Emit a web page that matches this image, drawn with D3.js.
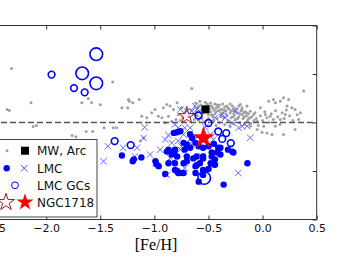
<!DOCTYPE html>
<html>
<head>
<meta charset="utf-8">
<script src="https://cdn.jsdelivr.net/npm/d3@7"></script>
<style>
  body { margin: 0; background: #fff; }
  svg { display: block; }
</style>
</head>
<body>
<svg id="chart" width="356" height="259"></svg>
<script>
// [Fe/H] vs abundance ratio
let xTicks = [-2.5, -2.0, -1.5, -1.0, -0.5, 0.0, 0.5];
let yTicks = [-1.0, -0.5, 0.0, 0.5, 1.0];

// Milky Way field stars (grey dots)
let mwStars = [
    [-2.32, 0.556], [-2.36, 0.135], [-2.34, 0.125], [-2.14, 0.204], [-2.09, -0.03], [-2.12, -0.04],
    [-1.61, 0.248], [-1.67, 0.204], [-1.58, 0.204], [-1.50, 0.183], [-1.385, 0.417], [-1.30, 0.152],
    [-1.246, 0.152], [-1.23, 0.22], [-1.20, 0.204], [-1.14, 0.238], [-1.465, -0.055], [-1.38, -0.055],
    [-1.76, -0.135], [-1.725, -0.148], [-1.63, -0.093], [-1.57, -0.093], [-1.13, -0.19], [-1.10, -0.16],
    [-1.35, -0.055], [-1.24, 0.238], [-1.117, 0.065], [-1.07, 0.049], [-1.024, 0.10], [-0.994, 0.135],
    [-0.963, 0.065], [-0.93, 0.049], [-0.917, 0.152], [-0.885, 0.186], [-0.855, 0.17], [-0.824, 0.135],
    [-0.79, 0.204], [-0.75, 0.152], [-0.87, 0.065], [-0.84, 0.013], [-0.90, -0.003], [-0.654, 0.35],
    [0.38, 0.324], [0.194, 0.256], [0.24, 0.238], [0.164, 0.22], [0.056, 0.22], [0.10, 0.238],
    [0.35, 0.10], [0.30, 0.135], [0.226, 0.169], [0.21, 0.083], [0.07, 0.065], [-0.083, 0.083],
    [-0.144, 0.169], [-0.19, 0.152], [0.333, 0.031], [-0.114, -0.038], [0.04, -0.107], [0.087, -0.124],
    [0.194, -0.124], [0.01, -0.038], [0.118, -0.038], [0.30, -0.072], [0.118, 0.204], [0.27, 0.152],
    [-0.02, 0.152], [0.025, 0.083], [0.164, 0.031], [-0.05, 0.013], [-0.114, 0.117], [-0.206, 0.186],
    [-0.176, 0.10], [-0.05, -0.072], [-0.005, -0.10],
    [-0.62, 0.20], [-0.60, 0.15], [-0.58, 0.12], [-0.57, 0.18], [-0.55, 0.10], [-0.54, 0.16],
    [-0.52, 0.13], [-0.51, 0.19], [-0.50, 0.08], [-0.49, 0.14], [-0.48, 0.11], [-0.47, 0.17],
    [-0.46, 0.06], [-0.45, 0.13], [-0.44, 0.09], [-0.43, 0.15], [-0.42, 0.04], [-0.41, 0.12],
    [-0.40, 0.18], [-0.39, 0.08], [-0.38, 0.14], [-0.37, 0.10], [-0.36, 0.05], [-0.35, 0.16],
    [-0.34, 0.12], [-0.33, 0.07], [-0.32, 0.02], [-0.31, 0.14], [-0.30, 0.10], [-0.29, 0.05],
    [-0.28, 0.17], [-0.27, 0.12], [-0.26, 0.08], [-0.25, 0.03], [-0.24, 0.14], [-0.23, 0.10],
    [-0.22, 0.06], [-0.21, 0.00], [-0.20, 0.12], [-0.19, 0.08], [-0.18, 0.04], [-0.17, -0.02],
    [-0.16, 0.11], [-0.15, 0.07], [-0.14, 0.02], [-0.13, 0.09], [-0.12, 0.05], [-0.11, -0.01],
    [-0.10, 0.06], [-0.08, 0.02], [-0.07, 0.10], [-0.06, 0.04], [-0.04, -0.03], [-0.02, 0.07],
    [0.00, 0.02], [0.02, 0.11], [0.04, 0.05], [0.06, 0.00], [0.08, 0.09], [0.10, 0.03],
    [0.12, 0.12], [0.14, 0.06], [0.16, -0.02], [0.18, 0.10], [0.20, 0.04], [0.22, 0.13],
    [0.25, 0.07], [0.28, 0.02], [0.32, 0.08],
    [-0.72, 0.10], [-0.70, 0.16], [-0.68, 0.06], [-0.66, 0.13], [-0.64, 0.09], [-0.63, 0.03],
    [-0.61, 0.07], [-0.59, 0.02], [-0.56, 0.05], [-0.53, 0.01], [-0.78, 0.08], [-0.80, 0.03],
    [-0.76, 0.02], [-0.74, 0.05],
    [-0.58, 0.22], [-0.53, 0.21], [-0.48, 0.20], [-0.44, 0.19], [-0.41, 0.16], [-0.37, 0.19],
    [-0.33, 0.17], [-0.30, 0.19], [-0.26, 0.15], [-0.22, 0.17], [-0.50, 0.04], [-0.45, 0.02],
    [-0.40, 0.00], [-0.35, -0.02], [-0.30, -0.04], [-0.27, -0.01], [-0.43, -0.03],
    [-0.61, 0.11], [-0.59, 0.17], [-0.56, 0.14], [-0.53, 0.17], [-0.51, 0.11], [-0.49, 0.17],
    [-0.47, 0.08], [-0.46, 0.15], [-0.43, 0.11], [-0.42, 0.18], [-0.39, 0.13], [-0.38, 0.06],
    [-0.36, 0.13], [-0.34, 0.09], [-0.32, 0.15], [-0.29, 0.12], [-0.27, 0.06], [-0.25, 0.11],
    [-0.23, 0.04], [-0.21, 0.09], [-0.19, 0.13], [-0.17, 0.06], [-0.15, 0.10], [-0.13, 0.04]
];

// Arcturus
let arcturus = [[-0.528, 0.135]];

// LMC field stars, first sample (filled dots)
let lmcDots = [
    [-1.30, -0.34], [-1.20, -0.40], [-1.19, -0.38], [-1.12, -0.36], [-0.99, -0.40], [-0.98, -0.43],
    [-0.96, -0.45], [-0.90, -0.53], [-0.885, -0.30], [-0.87, -0.28], [-0.87, -0.42], [-0.84, -0.31],
    [-0.84, -0.33], [-0.82, -0.107], [-0.82, -0.31], [-0.81, -0.28], [-0.81, -0.42], [-0.81, -0.49],
    [-0.79, -0.10], [-0.79, -0.35], [-0.79, -0.50], [-0.78, -0.52], [-0.76, -0.09], [-0.76, -0.52],
    [-0.73, -0.21], [-0.73, -0.42], [-0.73, -0.52], [-0.72, -0.28], [-0.70, -0.23], [-0.70, -0.35],
    [-0.70, -0.40], [-0.67, -0.12], [-0.67, -0.26], [-0.65, -0.16], [-0.64, -0.37], [-0.62, -0.21],
    [-0.62, -0.45], [-0.62, -0.52], [-0.61, -0.35], [-0.61, -0.44], [-0.59, -0.245], [-0.59, -0.61],
    [-0.58, -0.42], [-0.55, -0.26], [-0.55, -0.35], [-0.55, -0.37], [-0.55, -0.49], [-0.55, -0.54],
    [-0.50, -0.245], [-0.50, -0.48], [-0.48, -0.42], [-0.47, -0.31], [-0.47, -0.35], [-0.45, -0.22],
    [-0.45, -0.43], [-0.44, -0.38], [-0.42, -0.31], [-0.41, -0.26], [-0.39, -0.26], [-0.39, -0.33],
    [-0.36, -0.64], [-0.32, -0.28], [-0.28, -0.30], [-0.27, -0.31], [-0.14, -0.42], [-0.44, -0.435]
];

// LMC field stars, second sample (crosses)
let lmcCrosses = [
    [-1.47, -0.40], [-1.43, -0.245], [-1.29, -0.26], [-1.18, -0.35], [-1.16, -0.26], [-1.10, -0.16],
    [-1.09, -0.05], [-0.99, -0.42], [-0.885, -0.54], [-0.87, -0.13], [-0.855, -0.365], [-0.84, -0.21],
    [-0.78, -0.055], [-0.78, -0.19], [-0.76, 0.135], [-0.76, -0.28], [-0.75, -0.245], [-0.73, -0.124],
    [-0.72, -0.055], [-0.72, -0.47], [-0.70, 0.117], [-0.70, -0.21], [-0.70, -0.38], [-0.67, -0.055],
    [-0.67, -0.176], [-0.654, 0.117], [-0.654, -0.228], [-0.63, -0.176], [-0.623, 0.169], [-0.607, 0.135],
    [-0.577, 0.049], [-0.56, -0.35], [-0.376, 0.083], [-0.345, 0.049], [-0.283, -0.003], [-0.253, 0.117],
    [-0.222, -0.055], [-0.19, -0.038], [-0.144, -0.038], [-0.114, -0.158], [-0.225, -0.52], [-0.90, -0.176],
    [-0.947, -0.28], [-0.81, -0.02], [-0.53, -0.05], [-0.484, -0.124], [-0.438, 0.05], [-0.456, -0.176],
    [-1.04, -0.33], [-0.836, -0.41]
];

// LMC globular clusters: [Fe/H], ratio, relative mass
let lmcGCs = [
    [-1.537, 0.704, 3], [-1.667, 0.507, 3], [-1.537, 0.404, 3], [-1.95, 0.494, 1], [-1.743, 0.355, 1],
    [-1.644, 0.311, 1], [-0.593, 0.072, 1], [-0.50, -0.005, 1], [-0.41, -0.093, 1], [-0.336, -0.109, 1],
    [-0.373, -0.169, 1], [-0.294, -0.212, 1], [-0.54, -0.572, 3], [-1.367, -0.192, 1], [-1.219, -0.233, 1]
];

// NGC 1718: open star = alternative value, filled star = adopted value
let ngc1718Alt = [[-0.70, 0.065]];
let ngc1718 = [[-0.546, -0.158]];

let legendLabels = ["MW, Arc", "LMC", "LMC GCs", "NGC1718"];

function drawChart() {
    let svg = d3.select("#chart");
    let x = d3.scaleLinear().domain([-2.75, 0.5]).range([-35, 316.7]);
    let y = d3.scaleLinear().domain([-1, 1]).range([219.5, 25.5]);
    let r = d3.scaleSqrt().domain([0, 3]).range([0, 6.3]);
    let fmt = v => d3.format(".1f")(v).replace("-", "\u2212");

    let plot = svg.append("g");

    // grey MW dots
    plot.selectAll(".mw").data(mwStars).enter().append("circle")
        .attr("cx", d => x(d[0])).attr("cy", d => y(d[1]))
        .attr("r", 1.5).attr("fill", "#a0a0a0");

    // solar-ratio line
    plot.append("line")
        .attr("x1", x(-2.75)).attr("x2", x(0.5))
        .attr("y1", y(0)).attr("y2", y(0))
        .attr("stroke", "#555").attr("stroke-width", 1.5)
        .attr("stroke-dasharray", "6,3");

    // LMC crosses
    plot.selectAll(".lx").data(lmcCrosses).enter().append("path")
        .attr("d", d => {
            let px = x(d[0]), py = y(d[1]), s = 3.2;
            return "M" + (px - s) + "," + (py - s) + "L" + (px + s) + "," + (py + s) +
                "M" + (px - s) + "," + (py + s) + "L" + (px + s) + "," + (py - s);
        })
        .attr("fill", "none").attr("stroke", "#4d4dff").attr("stroke-width", 1).attr("opacity", 0.85);

    // LMC dots
    plot.selectAll(".ld").data(lmcDots).enter().append("circle")
        .attr("cx", d => x(d[0])).attr("cy", d => y(d[1]))
        .attr("r", 3.2).attr("fill", "#0000ff");

    // LMC GCs
    plot.selectAll(".gc").data(lmcGCs).enter().append("circle")
        .attr("cx", d => x(d[0])).attr("cy", d => y(d[1]))
        .attr("r", d => r(d[2]) * 0.62 + (d[2] === 1 ? 1.1 : 2.4))
        .attr("fill", "none").attr("stroke", "#0000ff").attr("stroke-width", 1.6);

    // Arcturus
    plot.selectAll(".arc").data(arcturus).enter().append("path")
        .attr("transform", d => "translate(" + x(d[0]) + "," + y(d[1]) + ")")
        .attr("d", d3.symbol(d3.symbolSquare, 64)).attr("fill", "#000");

    // NGC 1718
    plot.selectAll(".ngcAlt").data(ngc1718Alt).enter().append("path")
        .attr("transform", d => "translate(" + x(d[0]) + "," + y(d[1]) + ")")
        .attr("d", d3.symbol(d3.symbolStar, 80))
        .attr("fill", "none").attr("stroke", "#a01818").attr("stroke-width", 1);
    plot.selectAll(".ngc").data(ngc1718).enter().append("path")
        .attr("transform", d => "translate(" + x(d[0]) + "," + y(d[1]) + ")")
        .attr("d", d3.symbol(d3.symbolStar, 140))
        .attr("fill", "#ff0000").attr("stroke", "#ff0000").attr("stroke-width", 0.5);

    // frame and ticks
    let bottom = svg.append("g").attr("transform", "translate(0," + y(-1) + ")")
        .call(d3.axisBottom(x).tickValues(xTicks).tickFormat(fmt).tickSizeInner(-4).tickSizeOuter(0).tickPadding(5));
    bottom.selectAll("text").attr("font-family", "DejaVu Sans").attr("font-size", 11).attr("fill", "#111");
    let top = svg.append("g").attr("transform", "translate(0," + y(1) + ")")
        .call(d3.axisTop(x).tickValues(xTicks).tickFormat("").tickSizeInner(-4).tickSizeOuter(0));
    let right = svg.append("g").attr("transform", "translate(" + x(0.5) + ",0)")
        .call(d3.axisRight(y).tickValues(yTicks).tickFormat("").tickSizeInner(-4).tickSizeOuter(0));
    [bottom, top, right].forEach(g => {
        g.select(".domain").remove();
        g.selectAll("line").attr("stroke", "#333");
    });
    svg.append("rect")
        .attr("x", x(-2.75)).attr("y", y(1))
        .attr("width", x(0.5) - x(-2.75)).attr("height", y(-1) - y(1))
        .attr("fill", "none").attr("stroke", "#333").attr("stroke-width", 1);

    svg.append("text")
        .attr("x", 156).attr("y", 250)
        .attr("text-anchor", "middle")
        .attr("font-family", "Liberation Serif").attr("font-size", 16)
        .text("[Fe/H]");

    // legend
    let lg = svg.append("g");
    lg.append("rect").attr("x", -6).attr("y", 139.5).attr("width", 103).attr("height", 77.5)
        .attr("fill", "#fff").attr("stroke", "#444").attr("stroke-width", 1);
    let rows = [150.7, 168.3, 185.3, 202.3];
    lg.selectAll(".lt").data(legendLabels).enter().append("text")
        .attr("x", 37).attr("y", (d, i) => rows[i] + 4.5)
        .attr("font-family", "DejaVu Sans").attr("font-size", 12).attr("fill", "#111")
        .text(d => d);
    lg.append("circle").attr("cx", 7).attr("cy", rows[0]).attr("r", 1.5).attr("fill", "#a0a0a0");
    lg.append("path").attr("transform", "translate(25," + rows[0] + ")")
        .attr("d", d3.symbol(d3.symbolSquare, 64)).attr("fill", "#000");
    lg.append("circle").attr("cx", 6.7).attr("cy", rows[1]).attr("r", 3.2).attr("fill", "#0000ff");
    lg.append("path")
        .attr("d", "M21,165.1L27.4,171.5M21,171.5L27.4,165.1")
        .attr("stroke", "#4d4dff").attr("stroke-width", 1);
    lg.append("circle").attr("cx", 15).attr("cy", rows[2]).attr("r", 3.4)
        .attr("fill", "none").attr("stroke", "#0000ff").attr("stroke-width", 1);
    lg.append("path").attr("transform", "translate(6," + rows[3] + ")")
        .attr("d", d3.symbol(d3.symbolStar, 90))
        .attr("fill", "none").attr("stroke", "#a01818").attr("stroke-width", 1);
    lg.append("path").attr("transform", "translate(25," + rows[3] + ")")
        .attr("d", d3.symbol(d3.symbolStar, 90))
        .attr("fill", "#ff0000");
}

drawChart();
</script>
</body>
</html>
